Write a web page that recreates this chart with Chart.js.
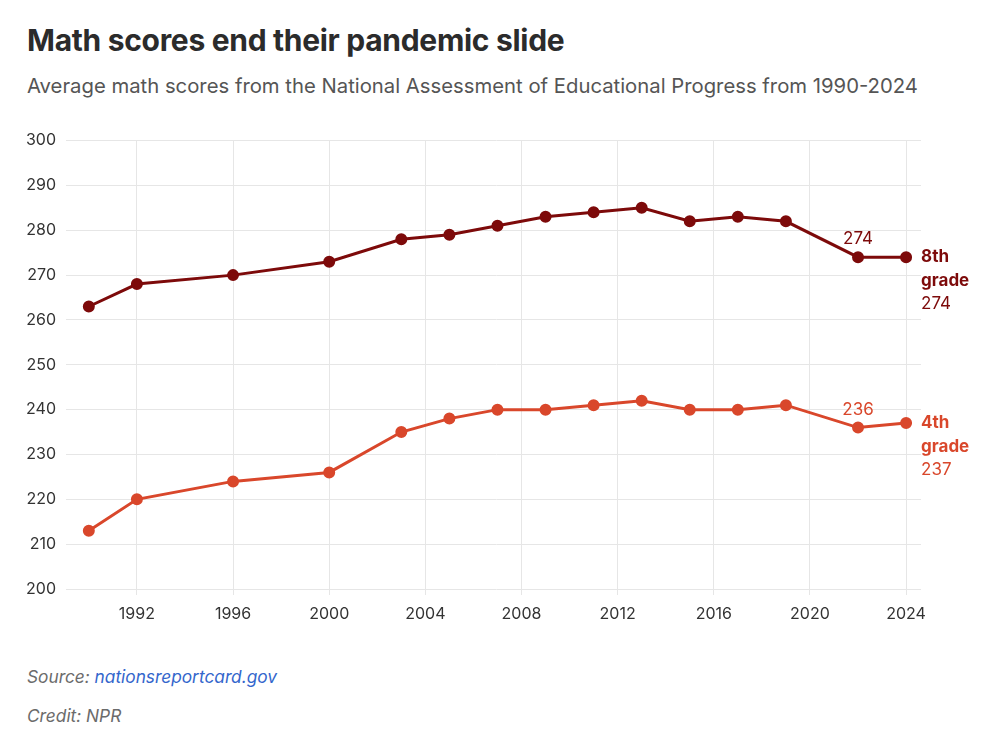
<!DOCTYPE html>
<html lang="en">
<head>
    <meta charset="UTF-8">
    <title>Math scores end their pandemic slide</title>
    <script src="https://cdn.jsdelivr.net/npm/chart.js"></script>
    <style>
        body { margin: 0; background: #fff; font-family: "Inter", "Lato", sans-serif; }
        h1 { position: absolute; left: 27px; top: 22px; margin: 0; font-size: 30px; font-weight: 700; color: #2b2b2b; letter-spacing: -0.3px; }
        .sub { position: absolute; left: 27px; top: 73px; margin: 0; font-size: 20.3px; color: #555; }
        .chart { position: absolute; left: 0; top: 121px; width: 1000px; height: 509px; }
        .note { position: absolute; left: 27px; margin: 0; font-size: 17.3px; font-style: italic; color: #6b6b6b; }
        .note a { color: #3366cc; text-decoration: none; }
    </style>
</head>
<body>
    <h1>Math scores end their pandemic slide</h1>
    <p class="sub">Average math scores from the National Assessment of Educational Progress from 1990-2024</p>
    <div class="chart"><canvas id="scores"></canvas></div>
    <p class="note" style="top:666px">Source: <a href="#">nationsreportcard.gov</a></p>
    <p class="note" style="top:705px">Credit: NPR</p>

    <script>
        const years = [1990, 1992, 1996, 2000, 2003, 2005, 2007, 2009, 2011, 2013, 2015, 2017, 2019, 2022, 2024];
        const grade8 = [263, 268, 270, 273, 278, 279, 281, 283, 284, 285, 282, 283, 282, 274, 274];
        const grade4 = [213, 220, 224, 226, 235, 238, 240, 240, 241, 242, 240, 240, 241, 236, 237];
        const xTicks = [1992, 1996, 2000, 2004, 2008, 2012, 2016, 2020, 2024];

        const dark = '#7d0a0a';
        const orange = '#d9472b';

        function points(vals) {
            return years.map((y, i) => ({ x: y, y: vals[i] }));
        }

        // end labels drawn next to the last points
        const endLabels = {
            id: 'endLabels',
            afterDatasetsDraw(chart) {
                const ctx = chart.ctx;
                const xs = chart.scales.x, ys = chart.scales.y;
                const series = [
                    { vals: grade8, color: dark, name: '8th' },
                    { vals: grade4, color: orange, name: '4th' }
                ];
                ctx.save();
                series.forEach(s => {
                    const n = years.length;
                    const px22 = xs.getPixelForValue(years[n - 2]);
                    const py22 = ys.getPixelForValue(s.vals[n - 2]);
                    ctx.fillStyle = s.color;
                    ctx.font = '17px Inter, Lato, sans-serif';
                    ctx.textAlign = 'center';
                    ctx.textBaseline = 'middle';
                    ctx.fillText(String(s.vals[n - 2]), px22, py22 - 18);

                    const px = xs.getPixelForValue(years[n - 1]) + 15;
                    const py = ys.getPixelForValue(s.vals[n - 1]);
                    ctx.textAlign = 'left';
                    ctx.font = 'bold 17px Inter, Lato, sans-serif';
                    ctx.fillText(s.name, px, py);
                    ctx.fillText('grade', px, py + 24);
                    ctx.font = '17px Inter, Lato, sans-serif';
                    ctx.fillText(String(s.vals[n - 1]), px, py + 47);
                });
                ctx.restore();
            }
        };

        new Chart(document.getElementById('scores'), {
            type: 'line',
            data: {
                datasets: [
                    {
                        label: '8th grade',
                        data: points(grade8),
                        borderColor: dark,
                        backgroundColor: dark,
                        borderWidth: 3,
                        pointRadius: 4.5,
                        pointHoverRadius: 4.5,
                        tension: 0
                    },
                    {
                        label: '4th grade',
                        data: points(grade4),
                        borderColor: orange,
                        backgroundColor: orange,
                        borderWidth: 3,
                        pointRadius: 4.5,
                        pointHoverRadius: 4.5,
                        tension: 0
                    }
                ]
            },
            options: {
                responsive: true,
                maintainAspectRatio: false,
                animation: false,
                layout: { padding: { top: 9, right: 79, bottom: 0, left: 0 } },
                plugins: {
                    legend: { display: false },
                    tooltip: { enabled: false }
                },
                scales: {
                    x: {
                        type: 'linear',
                        min: 1989.3,
                        max: 2024.62,
                        afterBuildTicks(scale) {
                            scale.ticks = xTicks.map(v => ({ value: v }));
                        },
                        afterFit(scale) { scale.height = 41; },
                        grid: { color: '#e6e6e6', tickLength: 6, lineWidth: 1 },
                        border: { display: false },
                        ticks: {
                            color: '#333',
                            font: { size: 16, family: 'Inter, Lato, sans-serif' },
                            padding: 10,
                            maxRotation: 0,
                            callback: v => String(v)
                        }
                    },
                    y: {
                        min: 200,
                        max: 300,
                        afterFit(scale) { scale.width = 72; },
                        grid: { color: '#e6e6e6', tickLength: 6, lineWidth: 1 },
                        border: { display: false },
                        ticks: {
                            stepSize: 10,
                            color: '#333',
                            font: { size: 16, family: 'Inter, Lato, sans-serif' },
                            padding: 10
                        }
                    }
                }
            },
            plugins: [endLabels]
        });
    </script>
</body>
</html>
